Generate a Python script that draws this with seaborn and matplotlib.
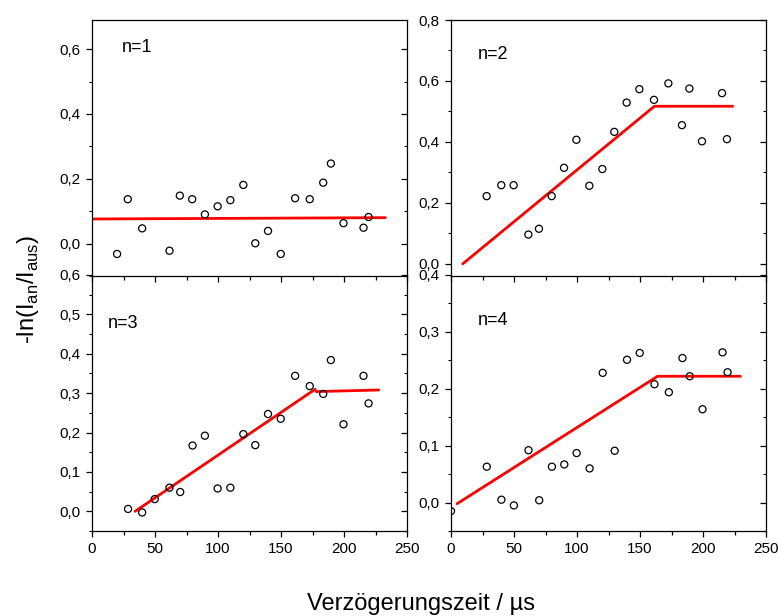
import matplotlib
matplotlib.use("Agg")
import matplotlib.pyplot as plt
import seaborn as sns
from matplotlib.ticker import MultipleLocator, FuncFormatter

# ---------------- data ----------------
x_n1 = [19.9, 28.4, 39.8, 61.5, 69.7, 79.5, 89.6, 99.7, 109.8, 120.1, 129.6, 139.7, 149.8, 161.2, 172.8, 183.5, 189.6, 199.6, 215.5, 219.5]
y_n1 = [-0.032, 0.137, 0.047, -0.022, 0.148, 0.137, 0.090, 0.115, 0.134, 0.181, 0.001, 0.039, -0.032, 0.140, 0.137, 0.188, 0.247, 0.063, 0.049, 0.082]
fit_n1_x = [1.3, 232.8]
fit_n1_y = [0.076, 0.080]

x_n2 = [28.3, 39.9, 49.7, 61.4, 69.8, 79.9, 89.7, 99.5, 109.8, 120.1, 129.6, 139.4, 149.5, 161.1, 172.5, 183.3, 189.2, 199.2, 215.1, 219.0]
y_n2 = [0.222, 0.258, 0.258, 0.096, 0.115, 0.222, 0.315, 0.407, 0.256, 0.311, 0.433, 0.529, 0.573, 0.538, 0.592, 0.455, 0.575, 0.402, 0.560, 0.409]
fit_n2_x = [9.3, 161.4, 223.5]
fit_n2_y = [0.0, 0.517, 0.517]

x_n3 = [28.6, 39.8, 49.8, 61.5, 70.0, 79.8, 89.6, 99.7, 109.8, 120.1, 129.6, 139.7, 149.8, 161.2, 172.8, 183.5, 189.6, 199.6, 215.5, 219.5]
y_n3 = [0.006, -0.003, 0.031, 0.060, 0.049, 0.167, 0.192, 0.058, 0.060, 0.196, 0.168, 0.247, 0.235, 0.344, 0.318, 0.298, 0.384, 0.221, 0.344, 0.274]
fit_n3a_x = [34.2, 177.1]
fit_n3a_y = [0.0, 0.310]
fit_n3b_x = [177.9, 227.5]
fit_n3b_y = [0.304, 0.308]

x_n4 = [0.0, 28.4, 40.0, 49.9, 61.5, 70.0, 80.1, 89.9, 99.7, 110.0, 120.4, 129.9, 139.7, 149.8, 161.5, 172.9, 183.7, 189.5, 199.6, 215.5, 219.5]
y_n4 = [-0.015, 0.063, 0.005, -0.005, 0.092, 0.004, 0.063, 0.067, 0.087, 0.060, 0.228, 0.091, 0.251, 0.263, 0.208, 0.194, 0.254, 0.222, 0.164, 0.264, 0.229]
fit_n4_x = [4.8, 163.9, 229.6]
fit_n4_y = [-0.002, 0.222, 0.222]

panel_labels = ["n=1", "n=2", "n=3", "n=4"]
xlabel_text = "Verzögerungszeit / µs"
ylabel_text = r"-ln(I$_\mathregular{an}$/I$_\mathregular{aus}$)"

# ---------------- style ----------------
sns.set_theme(style="ticks")
plt.rcParams["font.family"] = ["Liberation Sans", "DejaVu Sans"]
plt.rcParams["mathtext.fontset"] = "custom"
plt.rcParams["mathtext.rm"] = "Liberation Sans"
plt.rcParams["axes.edgecolor"] = "black"
plt.rcParams["axes.linewidth"] = 0.9

fig = plt.figure(figsize=(7.78, 6.16), dpi=100)
W, H = 778, 616

def add_ax(l, t, r, b):
    return fig.add_axes([l / W, 1 - b / H, (r - l) / W, (b - t) / H])

ax3 = add_ax(92, 275, 407, 531)
ax4 = add_ax(451, 275, 766, 531)
ax1 = add_ax(92, 20, 407, 276)
ax2 = add_ax(451, 20, 766, 276)

comma = FuncFormatter(lambda v, p: f"{v:.1f}".replace(".", ","))
comma_int = FuncFormatter(lambda v, p: f"{v:.0f}")

panels = [
    (ax1, x_n1, y_n1, [(fit_n1_x, fit_n1_y)], (-0.1, 0.69), 0.2, 0.1, (0.095, 0.925), True),
    (ax2, x_n2, y_n2, [(fit_n2_x, fit_n2_y)], (-0.04, 0.8), 0.2, 0.1, (0.086, 0.9), True),
    (ax3, x_n3, y_n3, [(fit_n3a_x, fit_n3a_y), (fit_n3b_x, fit_n3b_y)], (-0.05, 0.6), 0.1, 0.05, (0.05, 0.845), False),
    (ax4, x_n4, y_n4, [(fit_n4_x, fit_n4_y)], (-0.05, 0.4), 0.1, 0.05, (0.086, 0.855), False),
]

for i, (ax, xs, ys, fits, ylim, maj, mnr, lblpos, top) in enumerate(panels):
    for fx, fy in fits:
        sns.lineplot(x=fx, y=fy, ax=ax, color="red", linewidth=2.0,
                     sort=False, estimator=None, zorder=2)
    sns.scatterplot(x=xs, y=ys, ax=ax, marker="o", s=26,
                    facecolor="none", edgecolor="black", linewidth=0.9, zorder=3)
    ax.set_xlim(0, 250)
    ax.set_ylim(*ylim)
    ax.xaxis.set_major_locator(MultipleLocator(50))
    ax.xaxis.set_minor_locator(MultipleLocator(25))
    ax.yaxis.set_major_locator(MultipleLocator(maj))
    ax.yaxis.set_minor_locator(MultipleLocator(mnr))
    ax.yaxis.set_major_formatter(comma)
    ax.xaxis.set_major_formatter(comma_int)
    ax.tick_params(axis="y", which="both", left=True, right=True, direction="out",
                   labelsize=11, colors="black")
    ax.tick_params(axis="y", which="major", length=4.5, width=0.9)
    ax.tick_params(axis="y", which="minor", length=2.5, width=0.8)
    ax.tick_params(axis="x", which="both", length=3.5, width=0.9, labelsize=11,
                   colors="black", direction="out")
    ax.tick_params(axis="x", which="major", length=4.5)
    ax.tick_params(axis="x", which="minor", length=3.0)
    if top:
        ax.tick_params(axis="x", which="both", labelbottom=False)
    for sp in ax.spines.values():
        sp.set_visible(True)
        sp.set_color("black")
        sp.set_linewidth(0.9)
    if not top:
        ax.spines["top"].set_visible(False)
    ax.set_xlabel("")
    ax.set_ylabel("")
    ax.text(lblpos[0], lblpos[1], panel_labels[i], transform=ax.transAxes,
            fontsize=13, ha="left", va="top", color="black")
    ax.set_facecolor("none")

# right spine ticks inward
for ax in (ax1, ax2, ax3, ax4):
    for t in ax.yaxis.get_major_ticks() + ax.yaxis.get_minor_ticks():
        t.tick2line.set_marker(matplotlib.lines.TICKLEFT)

fig.text(0.036, 0.53, ylabel_text, rotation=90, ha="center", va="center",
         fontsize=17, color="black")
fig.text(0.541, 0.01, xlabel_text, ha="center", va="baseline",
         fontsize=17, color="black")

fig.savefig("out.png", dpi=100)
